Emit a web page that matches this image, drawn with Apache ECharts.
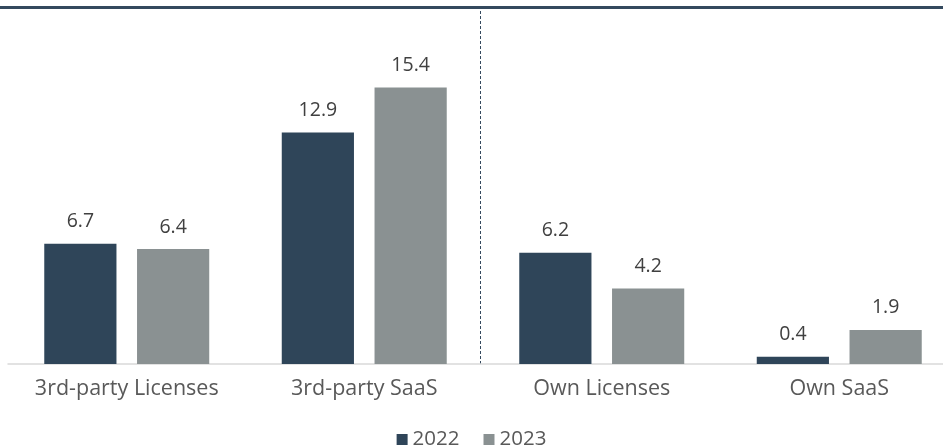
<!DOCTYPE html>
<html><head><meta charset="utf-8">
<script src="https://cdn.jsdelivr.net/npm/echarts@6/dist/echarts.min.js"></script>
<style>html,body{margin:0;padding:0;background:#fff}#c{width:943px;height:447px}</style>
</head><body><div id="c"></div>
<script>
const categories = ['3rd-party Licenses', '3rd-party SaaS', 'Own Licenses', 'Own SaaS'];
const seriesNames = ['2022', '2023'];
const values2022 = [6.7, 12.9, 6.2, 0.4];
const values2023 = [6.4, 15.4, 4.2, 1.9];
const colors = ['#2f4559', '#8a9192'];
const FONT = 'Open Sans';

const chart = echarts.init(document.getElementById('c'), null, {renderer: 'canvas'});
const labelCfg = {show: true, position: 'top', distance: 12, fontFamily: FONT, fontSize: 19.5, color: '#404040', formatter: p => p.value.toFixed(1)};
chart.setOption({
  animation: false,
  grid: {left: 8, width: 950, top: 5, bottom: 83, outerBoundsMode: 'none', containLabel: false},
  legend: {top: 424, left: 'center', itemWidth: 11, itemHeight: 11, itemGap: 24,
    icon: 'rect', textStyle: {fontFamily: FONT, fontSize: 20.5, color: '#595959'},
    data: seriesNames},
  xAxis: {type: 'category', data: categories,
    axisLine: {lineStyle: {color: '#d9d9d9', width: 1.5}}, axisTick: {show: false},
    axisLabel: {margin: 14, interval: 0, fontFamily: FONT, fontSize: 21.5, color: '#595959'}},
  yAxis: {type: 'value', min: 0, max: 20, show: false, splitLine: {show: false}},
  series: [
    {name: seriesNames[0], type: 'bar', data: values2022, barWidth: '30.4%', barGap: '28.5%', itemStyle: {color: colors[0]}, label: labelCfg},
    {name: seriesNames[1], type: 'bar', data: values2023, barWidth: '30.4%', barGap: '28.5%', itemStyle: {color: colors[1]}, label: labelCfg}
  ]
});
const x1 = chart.convertToPixel({xAxisIndex: 0}, categories[1]);
const x2 = chart.convertToPixel({xAxisIndex: 0}, categories[2]);
const yBase = chart.convertToPixel({yAxisIndex: 0}, 0);
const xm = Math.round((x1 + x2) / 2) - 2.5;
chart.setOption({
  graphic: [
    {type: 'rect', shape: {x: 0, y: 6, width: 943, height: 3}, style: {fill: '#34495e'}, silent: true},
    {type: 'line', shape: {x1: xm, y1: 11, x2: xm, y2: yBase}, style: {stroke: '#34495e', lineWidth: 1, lineDash: [3, 2]}, silent: true}
  ]
});
</script></body></html>
